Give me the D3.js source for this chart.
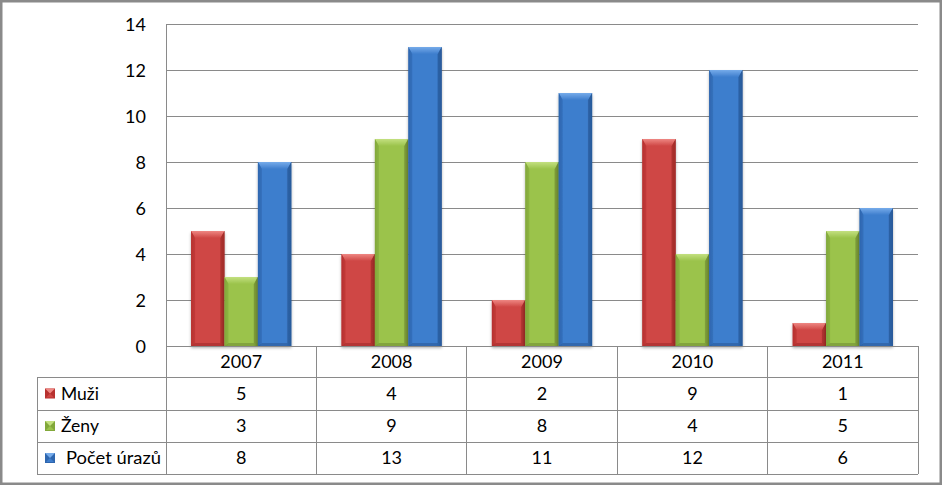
<!DOCTYPE html>
<html><head><meta charset="utf-8">
<script src="https://cdn.jsdelivr.net/npm/d3@7"></script>
<style>
html,body{margin:0;padding:0;background:#fff;}
svg{display:block;font-family:Lato,"Open Sans",sans-serif;}
</style></head>
<body><svg id="c" width="942" height="485"></svg>
<script>
const years = ["2007","2008","2009","2010","2011"];
const seriesNames = ["Muži","Ženy","Počet úrazů"];
const muzi = [5,4,2,9,1];
const zeny = [3,9,8,4,5];
const pocet = [8,13,11,12,6];
const yTicks = [0,2,4,6,8,10,12,14];

const seriesValues = [muzi, zeny, pocet];
const palette = [
  {base:"#CF4644", top:"#EE8783", side:"#B7312F", dark:"#A22C29"},
  {base:"#9BC34C", top:"#C3E07F", side:"#82A83A", dark:"#728F33"},
  {base:"#3E7ECD", top:"#76ABEA", side:"#2E66AE", dark:"#285A9A"}
];

const svg = d3.select("#c");
const L = 166, R = 918, T = 24, B = 346;
const rowEdges = [346, 377, 410, 442, 474];
const tableLeft = 37;
const gray = "#8a8a8a";
const numSize = 18, nameSize = 17.5;

const defs = svg.append("defs");
const f = defs.append("filter").attr("id","sh").attr("x","-20%").attr("y","-10%").attr("width","140%").attr("height","130%");
f.append("feDropShadow").attr("dx",0).attr("dy",2).attr("stdDeviation",1.8).attr("flood-color","#000").attr("flood-opacity",0.3);

palette.forEach((p,i)=>{
  const g = defs.append("linearGradient").attr("id","g"+i).attr("x1",0).attr("x2",1).attr("y1",0).attr("y2",0);
  g.append("stop").attr("offset","0%").attr("stop-color",p.side);
  g.append("stop").attr("offset","12%").attr("stop-color",p.base);
  g.append("stop").attr("offset","85%").attr("stop-color",p.base);
  g.append("stop").attr("offset","100%").attr("stop-color",p.dark);
  const t = defs.append("linearGradient").attr("id","t"+i).attr("x1",0).attr("x2",0).attr("y1",0).attr("y2",1);
  t.append("stop").attr("offset","0%").attr("stop-color",p.top);
  t.append("stop").attr("offset","100%").attr("stop-color",p.base);
});

const x0 = d3.scaleBand().domain(years).range([L, R]).padding(0);
const x1 = d3.scaleBand().domain(seriesNames).range([0, x0.bandwidth()]).paddingInner(0).paddingOuter(0.75);
const y = d3.scaleLinear().domain([0,14]).range([B, T]);

// outer border
svg.append("rect").attr("x",1.25).attr("y",1.25).attr("width",942-2.5).attr("height",485-2.5)
  .attr("fill","#fff").attr("stroke",gray).attr("stroke-width",2.5);

// gridlines
const grid = svg.append("g").attr("transform",`translate(${L},0)`)
  .call(d3.axisLeft(y).tickValues(yTicks).tickSize(-(R-L)).tickFormat(""));
grid.select(".domain").remove();
grid.selectAll("line").attr("stroke",gray).attr("stroke-width",1).attr("shape-rendering","crispEdges");

// y tick labels
const ax = svg.append("g").attr("transform",`translate(${L},0)`)
  .call(d3.axisLeft(y).tickValues(yTicks).tickSize(0).tickPadding(20));
ax.select(".domain").remove();
ax.selectAll("text").attr("font-size",numSize).attr("fill","#000").attr("font-family","Lato, 'Open Sans', sans-serif").attr("dy","0.34em");

// bars
const bev = 7, sideB = 4;
years.forEach((yr, ci)=>{
  seriesNames.forEach((s, si)=>{
    const v = seriesValues[si][ci];
    const xa = x0(yr) + x1(s), w = x1.bandwidth();
    const xb = xa + w, ya = y(v), yb = y(0);
    const h = yb - ya;
    const by = Math.min(bev, h/2), bx = Math.min(sideB, w/2);
    const g = svg.append("g").attr("filter","url(#sh)");
    g.append("rect").attr("x",xa).attr("y",ya).attr("width",w).attr("height",h).attr("fill",`url(#g${si})`);
    g.append("path").attr("d",`M${xa},${ya}L${xb},${ya}L${xb-bx},${ya+by}L${xa+bx},${ya+by}Z`).attr("fill",`url(#t${si})`);
    g.append("path").attr("d",`M${xa},${yb}L${xb},${yb}L${xb-bx},${yb-3}L${xa+bx},${yb-3}Z`).attr("fill",palette[si].dark).attr("opacity",0.6);
    g.append("path").attr("d",`M${xa},${ya}L${xa+bx},${ya+by}L${xa+bx},${yb-3}L${xa},${yb}Z`).attr("fill",palette[si].side).attr("opacity",0.55);
    g.append("path").attr("d",`M${xb},${ya}L${xb-bx},${ya+by}L${xb-bx},${yb-3}L${xb},${yb}Z`).attr("fill",palette[si].dark).attr("opacity",0.7);
  });
});

// value axis line
svg.append("line").attr("x1",L).attr("x2",L).attr("y1",T).attr("y2",rowEdges[4]).attr("stroke",gray).attr("shape-rendering","crispEdges");

// data table lines
const tl = svg.append("g").attr("stroke",gray).attr("shape-rendering","crispEdges");
tl.append("line").attr("x1",L).attr("x2",R).attr("y1",B).attr("y2",B);
rowEdges.slice(1).forEach(r=>{
  tl.append("line").attr("x1",tableLeft).attr("x2",R).attr("y1",r).attr("y2",r);
});
tl.append("line").attr("x1",tableLeft).attr("x2",tableLeft).attr("y1",rowEdges[1]).attr("y2",rowEdges[4]);
years.forEach(yr=>{
  tl.append("line").attr("x1",x0(yr)+x0.bandwidth()).attr("x2",x0(yr)+x0.bandwidth()).attr("y1",B).attr("y2",rowEdges[4]);
});

// year labels
svg.append("g").selectAll("text").data(years).join("text")
  .attr("x",d=>x0(d)+x0.bandwidth()/2).attr("y",(rowEdges[0]+rowEdges[1])/2).attr("dy","0.36em")
  .attr("text-anchor","middle").attr("font-size",numSize).text(d=>d);

// series rows
seriesNames.forEach((s, si)=>{
  const cy = (rowEdges[si+1]+rowEdges[si+2])/2;
  const p = palette[si];
  const kx = 45, ky = cy-5, ks = 10;
  const k = svg.append("g");
  k.append("rect").attr("x",kx).attr("y",ky).attr("width",ks).attr("height",ks).attr("fill",p.side);
  k.append("path").attr("d",`M${kx},${ky}L${kx+ks},${ky}L${kx+ks/2},${ky+ks/2}Z`).attr("fill",p.top);
  k.append("path").attr("d",`M${kx+1},${ky+ks-1}L${kx+ks-1},${ky+ks-1}L${kx+ks/2},${ky+ks/2}Z`).attr("fill",p.base);
  const t = svg.append("text").attr("x", si===2 ? 66 : 61).attr("y",cy).attr("dy","0.36em").attr("font-size",nameSize).text(s);
  if (si===2) t.attr("textLength",95).attr("lengthAdjust","spacingAndGlyphs");
  years.forEach((yr, ci)=>{
    svg.append("text").attr("x",x0(yr)+x0.bandwidth()/2).attr("y",cy).attr("dy","0.36em")
      .attr("text-anchor","middle").attr("font-size",numSize).text(seriesValues[si][ci]);
  });
});
</script></body></html>
